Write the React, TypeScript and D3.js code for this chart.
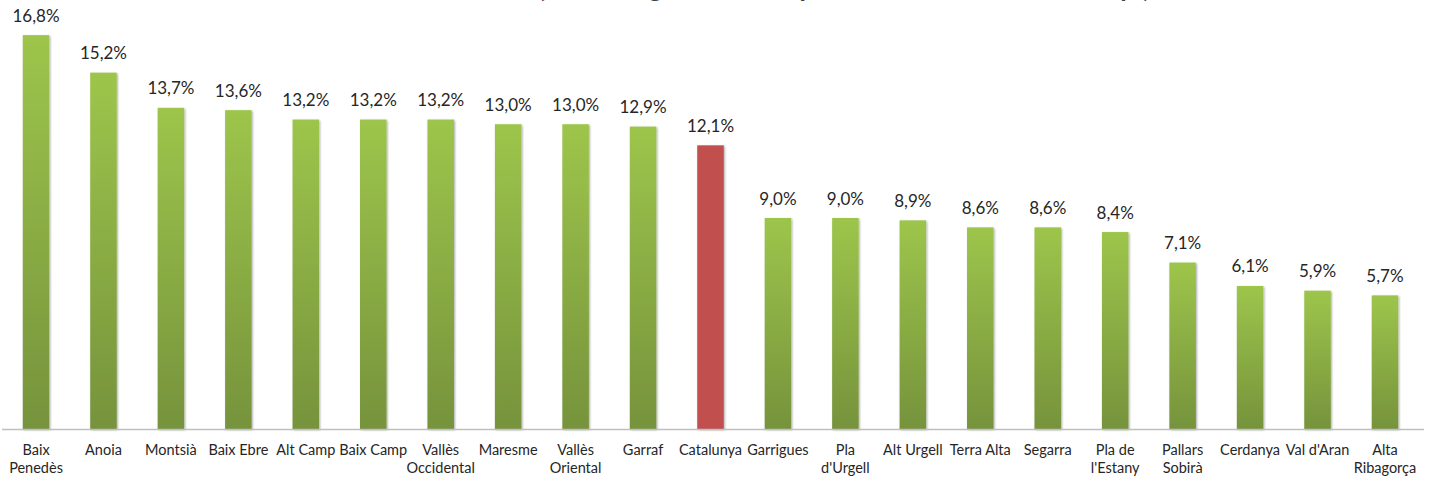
import React from "react";
import * as d3 from "d3";

const categories = [
  "Baix Penedès", "Anoia", "Montsià", "Baix Ebre", "Alt Camp", "Baix Camp",
  "Vallès Occidental", "Maresme", "Vallès Oriental", "Garraf", "Catalunya",
  "Garrigues", "Pla d'Urgell", "Alt Urgell", "Terra Alta", "Segarra",
  "Pla de l'Estany", "Pallars Sobirà", "Cerdanya", "Val d'Aran", "Alta Ribagorça",
];
const values = [
  16.8, 15.2, 13.7, 13.6, 13.2, 13.2, 13.2, 13.0, 13.0, 12.9, 12.1,
  9.0, 9.0, 8.9, 8.6, 8.6, 8.4, 7.1, 6.1, 5.9, 5.7,
];
const highlighted = ["Catalunya"];
const titleLead = "Taxa d'atur";
const titleParen = "(% atur registrat sobre població total de 16 a 64 anys)";

const W = 1430;
const H = 477;
const FONT = "Lato, 'Open Sans', sans-serif";

function splitLabel(name: string): string[] {
  if (name.length <= 10) return [name];
  const i = name.lastIndexOf(" ");
  return [name.slice(0, i), name.slice(i + 1)];
}

const fmt = (v: number) => d3.format(".1f")(v).replace(".", ",") + "%";

export default function App() {
  const x = d3
    .scaleBand<string>()
    .domain(categories)
    .range([2.3, 1418.7])
    .paddingInner(0.607)
    .paddingOuter(0.3035);
  const y = d3.scaleLinear().domain([0, 18]).range([429, 7]);
  const data = categories.map((c, i) => ({ c, v: values[i] }));

  return (
    <div style={{ position: "absolute", left: 0, top: 0 }}>
      <svg width={W} height={H} style={{ display: "block", background: "#fff" }}>
        <defs>
          <linearGradient id="gGreen" x1="0" y1="0" x2="0" y2="1">
            <stop offset="0%" stopColor="#9dc54b" />
            <stop offset="100%" stopColor="#76933c" />
          </linearGradient>
          <linearGradient id="gRed" x1="0" y1="0" x2="0" y2="1">
            <stop offset="0%" stopColor="#c0504d" />
            <stop offset="100%" stopColor="#c0504d" />
          </linearGradient>
          <filter id="sh" x="-20%" y="-5%" width="140%" height="110%">
            <feGaussianBlur in="SourceAlpha" stdDeviation="1" />
            <feOffset dx="0.5" dy="1" result="b" />
            <feComponentTransfer>
              <feFuncA type="linear" slope="0.35" />
            </feComponentTransfer>
            <feMerge>
              <feMergeNode />
              <feMergeNode in="SourceGraphic" />
            </feMerge>
          </filter>
        </defs>

        <text
          y={-3}
          fontFamily={FONT}
          fontWeight="bold"
          fontSize={26}
          fill="#404040"
        >
          <tspan x={536} textAnchor="end">{titleLead}</tspan>
          <tspan x={538} textAnchor="start">{titleParen}</tspan>
        </text>

        {data.map((d) => (
          <rect
            key={d.c}
            x={x(d.c)}
            y={y(d.v)}
            width={x.bandwidth()}
            height={y(0) - y(d.v)}
            fill={highlighted.includes(d.c) ? "url(#gRed)" : "url(#gGreen)"}
            filter="url(#sh)"
          />
        ))}

        <line x1={2} x2={1424} y1={429.5} y2={429.5} stroke="#bfbfbf" strokeWidth={1.5} />

        {data.map((d) => (
          <text
            key={"v" + d.c}
            x={(x(d.c) as number) + x.bandwidth() / 2}
            y={y(d.v) - 13.5}
            textAnchor="middle"
            fontFamily={FONT}
            fontSize={17}
            fill="#262626"
          >
            {fmt(d.v)}
          </text>
        ))}

        {data.map((d) => {
          const lines = splitLabel(d.c);
          const cx = (x(d.c) as number) + x.bandwidth() / 2;
          return (
            <text
              key={"c" + d.c}
              textAnchor="middle"
              fontFamily={FONT}
              fontSize={14.5}
              fill="#262626"
            >
              {lines.map((l, i) => (
                <tspan key={i} x={cx} y={455 + i * 17.5}>
                  {l}
                </tspan>
              ))}
            </text>
          );
        })}
      </svg>
    </div>
  );
}
